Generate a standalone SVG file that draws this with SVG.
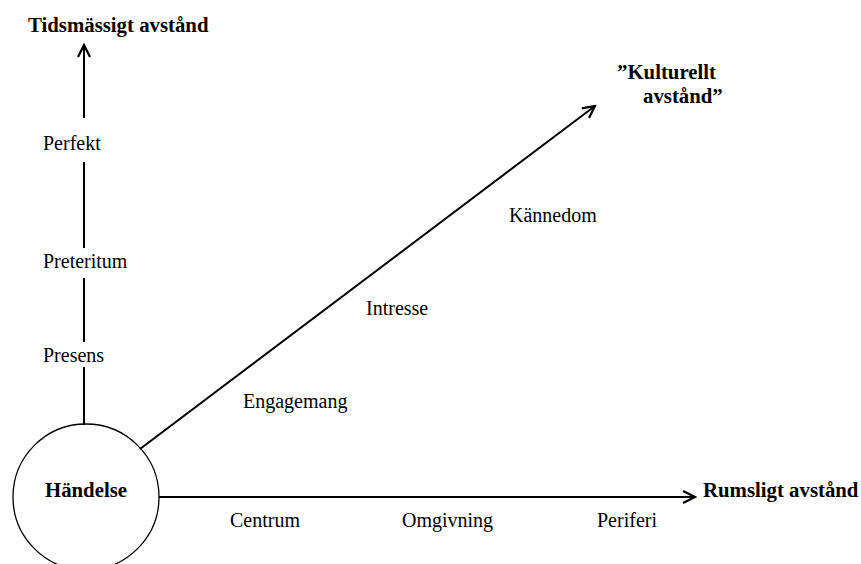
<svg xmlns="http://www.w3.org/2000/svg" width="861" height="564" viewBox="0 0 861 564">
<defs>
<style>
.t{font-family:"Liberation Serif","Times New Roman",serif;font-size:20px;fill:#000}
.b{font-family:"Liberation Serif","Times New Roman",serif;font-size:20.8px;font-weight:bold;fill:#000}
.ln{stroke:#000;stroke-width:2;fill:none}
</style>
<marker id="arr" viewBox="-14 -8 16 16" markerWidth="16" markerHeight="16" refX="0" refY="0" orient="auto" markerUnits="userSpaceOnUse">
<path d="M-12,-6 L0,0 L-12,6" fill="none" stroke="#000" stroke-width="2.2" stroke-linejoin="miter"/>
</marker>
</defs>
<rect width="861" height="564" fill="#fff"/>
<g id="connectors">
<line class="ln" x1="84" y1="118" x2="84" y2="45" marker-end="url(#arr)"/>
<line class="ln" x1="84" y1="162" x2="84" y2="248"/>
<line class="ln" x1="84" y1="278" x2="84" y2="342"/>
<line class="ln" x1="84" y1="367" x2="84" y2="425"/>
<line class="ln" x1="140" y1="449" x2="595" y2="106" marker-end="url(#arr)"/>
<line class="ln" x1="159" y1="497" x2="695" y2="497" stroke-width="2.4" marker-end="url(#arr)"/>
</g>
<g id="node-handelse">
<circle cx="86" cy="497" r="73" fill="none" stroke="#000" stroke-width="1.3"/>
<text class="b" x="86" y="497" text-anchor="middle">Händelse</text>
</g>
<g id="node-tid">
<text class="b" x="28" y="32">Tidsmässigt avstånd</text>
</g>
<g id="node-perfekt"><text class="t" x="43" y="150">Perfekt</text></g>
<g id="node-preteritum"><text class="t" x="43" y="268">Preteritum</text></g>
<g id="node-presens"><text class="t" x="43" y="362">Presens</text></g>
<g id="node-kultur">
<text class="b" x="617" y="79">”Kulturellt</text>
<text class="b" x="643" y="103">avstånd”</text>
</g>
<g id="node-kannedom"><text class="t" x="509" y="222">Kännedom</text></g>
<g id="node-intresse"><text class="t" x="366" y="315">Intresse</text></g>
<g id="node-engagemang"><text class="t" x="243" y="408">Engagemang</text></g>
<g id="node-rum"><text class="b" x="703" y="497">Rumsligt avstånd</text></g>
<g id="node-centrum"><text class="t" x="230" y="527">Centrum</text></g>
<g id="node-omgivning"><text class="t" x="402" y="527">Omgivning</text></g>
<g id="node-periferi"><text class="t" x="597" y="527">Periferi</text></g>
</svg>
